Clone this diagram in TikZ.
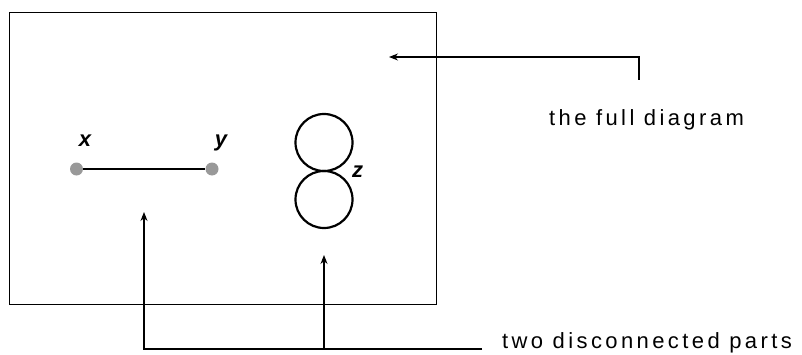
\documentclass[tikz,border=0pt]{standalone}
\usepackage{fontspec}
\setmainfont{Liberation Sans}
\newfontfamily\spacedfont[LetterSpace=15.5]{Liberation Sans}
\usetikzlibrary{arrows.meta}
\begin{document}
\begin{tikzpicture}[x=1pt,y=1pt,
  frame/.style={draw=black,line width=1.4pt},
  pointdot/.style={circle,fill=black!40,inner sep=0pt,minimum size=13pt},
  ptlabel/.style={font=\fontsize{22}{22}\selectfont\bfseries\itshape,inner sep=0pt,anchor=base},
  caption/.style={font=\fontsize{22}{22}\selectfont\spacedfont,inner sep=0pt,anchor=base},
  edge/.style={line width=2.2pt},
  loopc/.style={draw=black,line width=2.2pt,circle,minimum size=57pt,inner sep=0pt},
  pointer/.style={line width=1.1pt,-{Stealth[length=9pt,width=7pt]}},
  bar/.style={line width=1.1pt}]
\useasboundingbox (0,0) rectangle (802,354);
% frame
\node[frame,minimum width=427pt,minimum height=292pt,inner sep=0pt,anchor=north west] (full) at (9,342) {};
% edge x--y
\node[pointdot] (x) at (76.5,185) {};
\node[pointdot] (y) at (212,185) {};
\draw[edge] (x) -- (y);
\node[ptlabel] (xl) at (85,208) {x};
\node[ptlabel] (yl) at (221,208) {y};
% loops at z
\node[loopc] (top) at (324,211.5) {};
\node[loopc] (bot) at (324,154.5) {};
\node[ptlabel] (zl) at (357.5,177) {z};
% captions
\node[caption] (cap1) at (646.5,229) {the full diagram};
\node[caption] (cap2) at (647,6) {two disconnected parts};
% pointer to full diagram
\coordinate (a0) at (639,274);
\coordinate (a1) at (639,297);
\coordinate (a2) at (389,297);
\draw[pointer] (a0) -- (a1) -- (a2);
% pointers to parts
\coordinate (b0) at (482,5);
\coordinate (b1) at (144,5);
\coordinate (b2) at (144,142);
\coordinate (c0) at (324,5);
\coordinate (c1) at (324,99);
\draw[pointer] (b0) -- (b1) -- (b2);
\draw[pointer] (c0) -- (c1);
\end{tikzpicture}
\end{document}
